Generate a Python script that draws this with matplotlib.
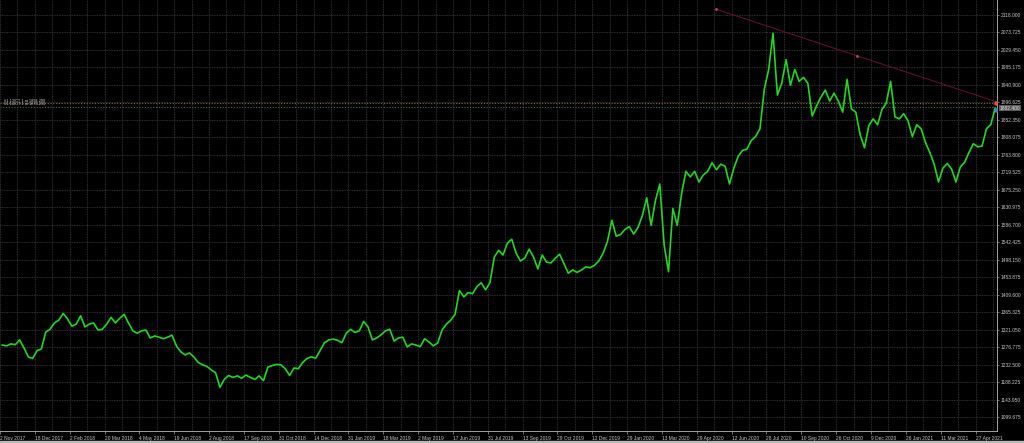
import matplotlib
matplotlib.use("Agg")
from matplotlib import pyplot as plt
import numpy as np

# ---- data ----
# closes, one every 4 daily bars, starting at bar 2 after "2 Nov 2017"
closes = [1282, 1280, 1285, 1283, 1295, 1275, 1252, 1248, 1268, 1272,
          1315, 1322, 1338, 1345, 1362, 1348, 1330, 1335, 1356, 1328,
          1335, 1338, 1320, 1322, 1335, 1352, 1338, 1350, 1360, 1338,
          1318, 1312, 1318, 1320, 1300, 1305, 1302, 1298, 1302, 1307,
          1280, 1265, 1257, 1262, 1252, 1238, 1232, 1228, 1219, 1212,
          1175, 1195, 1205, 1200, 1204, 1198, 1206, 1200, 1195, 1204,
          1192, 1226, 1230, 1233, 1232, 1222, 1205, 1224, 1222, 1238,
          1248, 1252, 1249, 1268, 1288, 1295, 1297, 1294, 1288, 1312,
          1322, 1314, 1318, 1342, 1328, 1295, 1300, 1308, 1318, 1322,
          1292, 1300, 1302, 1277, 1285, 1282, 1278, 1298, 1290, 1280,
          1287, 1320, 1335, 1345, 1360, 1420, 1404, 1415, 1412, 1430,
          1440, 1422, 1440, 1505, 1522, 1510, 1540, 1550, 1515, 1495,
          1502, 1525, 1505, 1475, 1510, 1492, 1490, 1502, 1512, 1488,
          1464, 1472, 1466, 1472, 1480, 1478, 1484, 1495, 1515, 1545,
          1598, 1558, 1562, 1575, 1582, 1563, 1580, 1610, 1655, 1585,
          1648, 1690, 1535, 1468, 1628, 1585, 1665, 1722, 1708, 1722,
          1695, 1713, 1722, 1744, 1726, 1740, 1735, 1690, 1730, 1760,
          1775, 1778, 1800, 1810, 1830, 1930, 1980, 2072, 1915, 1945,
          2005, 1940, 1980, 1950, 1960, 1945, 1862, 1888, 1910, 1928,
          1900, 1920, 1900, 1872, 1955, 1880, 1872, 1815, 1782, 1838,
          1855, 1840, 1878, 1895, 1950, 1860, 1855, 1868, 1850, 1810,
          1840, 1830, 1795, 1770, 1740, 1695, 1730, 1742, 1728, 1695,
          1733, 1745, 1770, 1792, 1784, 1786, 1830, 1840, 1882]
first_bar = 2
bar_step = 4

date_labels = ["2 Nov 2017", "18 Dec 2017", "2 Feb 2018", "20 Mar 2018", "4 May 2018",
               "19 Jun 2018", "2 Aug 2018", "17 Sep 2018", "31 Oct 2018", "14 Dec 2018",
               "31 Jan 2019", "18 Mar 2019", "2 May 2019", "17 Jun 2019", "31 Jul 2019",
               "13 Sep 2019", "29 Oct 2019", "12 Dec 2019", "29 Jan 2020", "13 Mar 2020",
               "29 Apr 2020", "12 Jun 2020", "28 Jul 2020", "10 Sep 2020", "26 Oct 2020",
               "9 Dec 2020", "26 Jan 2021", "11 Mar 2021", "27 Apr 2021"]
bars_per_label = 32

price_top = 2118.0
price_step = 44.275
n_prices = 24

# trendline (bar, price) and order lines
trend_bars = [657.2, 787.3, 915.8]
trend_prices = [2133.2, 2014.5, 1897.6]
order_prices = [1894.2, 1886.0]
order_texts = ["#1.13/CT 1 at 1894.200", "#1.14/CT 1 at 1876.250"]
last_price = 1882.400

plt.rcParams['font.family'] = ['Liberation Sans', 'DejaVu Sans']
fs = 3.5

# ---- plot ----
W, H = 1024, 443
fig = plt.figure(figsize=(W / 100, H / 100), dpi=100, facecolor="black")
ax = fig.add_axes([0, 12 / H, 997 / W, 431 / H], facecolor="black")

x = first_bar + bar_step * np.arange(len(closes))
ax.plot(x, closes, color="#22d622", lw=1.2, zorder=3)

# trendline
ax.plot(trend_bars, trend_prices, color="#6a1230", lw=0.7, zorder=4, clip_on=False)
ax.plot(trend_bars[:2], trend_prices[:2], ls="none", marker="o", ms=1.1,
        color="#b04060", zorder=5)

# order lines
ax.axhline(order_prices[0], color="#8a6a2c", lw=0.8, ls=(0, (1, 1.5)), zorder=2)
ax.axhline(order_prices[1], color="#3c7a3c", lw=0.8, ls=(0, (1, 1.5)), zorder=2)
for p, t in zip(order_prices, order_texts):
    ax.text(4, p + 2, t, fontsize=2.8, color="#d0d0d0", va="bottom", ha="left")
ax.plot([x[-1] + 1], [order_prices[0]], ls="none", marker="o", ms=2.2, color="#e05050", zorder=6)
ax.plot([x[-1] + 1], [last_price - 4], ls="none", marker="o", ms=2.2, color="#4a7fc0", zorder=6)

# axes limits
px_per_bar = 34.9 / bars_per_label
x0_px = -1.7
ax.set_xlim((0 - x0_px) / px_per_bar, (997 - x0_px) / px_per_bar)
ppx = price_step / 17.48
ax.set_ylim(price_top - 416 * ppx, price_top + 15 * ppx)

# ticks
major_x = bars_per_label * np.arange(len(date_labels))
ax.set_xticks(major_x)
ax.set_xticklabels(date_labels, fontsize=fs, color="#c8c8c8", ha="left")
ax.set_xticks(np.arange(bars_per_label // 2, 940, bars_per_label), minor=True)
yt = price_top - price_step * np.arange(n_prices)
ax.set_yticks(yt)
ax.set_yticklabels([f"{v:.3f}" for v in yt], fontsize=fs, color="#c8c8c8")
ax.yaxis.tick_right()
ax.tick_params(axis="x", which="major", length=2, width=0.5, color="#9a9a9a", pad=1.5)
ax.tick_params(axis="x", which="minor", length=0)
ax.tick_params(axis="y", length=1.5, width=0.5, color="#9a9a9a", pad=1)

ax.grid(True, which="both", color="#3e3e3e", lw=0.6, ls=(0, (1, 1)))
ax.set_axisbelow(True)
for s in ["top", "left"]:
    ax.spines[s].set_visible(False)
for s in ["right", "bottom"]:
    ax.spines[s].set_color("#a0a0a0")
    ax.spines[s].set_linewidth(0.7)

# current price box
ax.annotate(f"{last_price:.3f}", xy=(1.003, last_price), xycoords=("axes fraction", "data"),
            fontsize=fs, color="#e0e0e0", va="center", ha="left", annotation_clip=False,
            bbox=dict(boxstyle="square,pad=0.15", fc="#5a5a5a", ec="none"))

# bottom window strip
fig.patches.append(plt.Rectangle((0, 0), 1, 2 / H, transform=fig.transFigure,
                                 color="#b8b8b8", zorder=0))

fig.savefig("out.png", dpi=100, facecolor="black")
